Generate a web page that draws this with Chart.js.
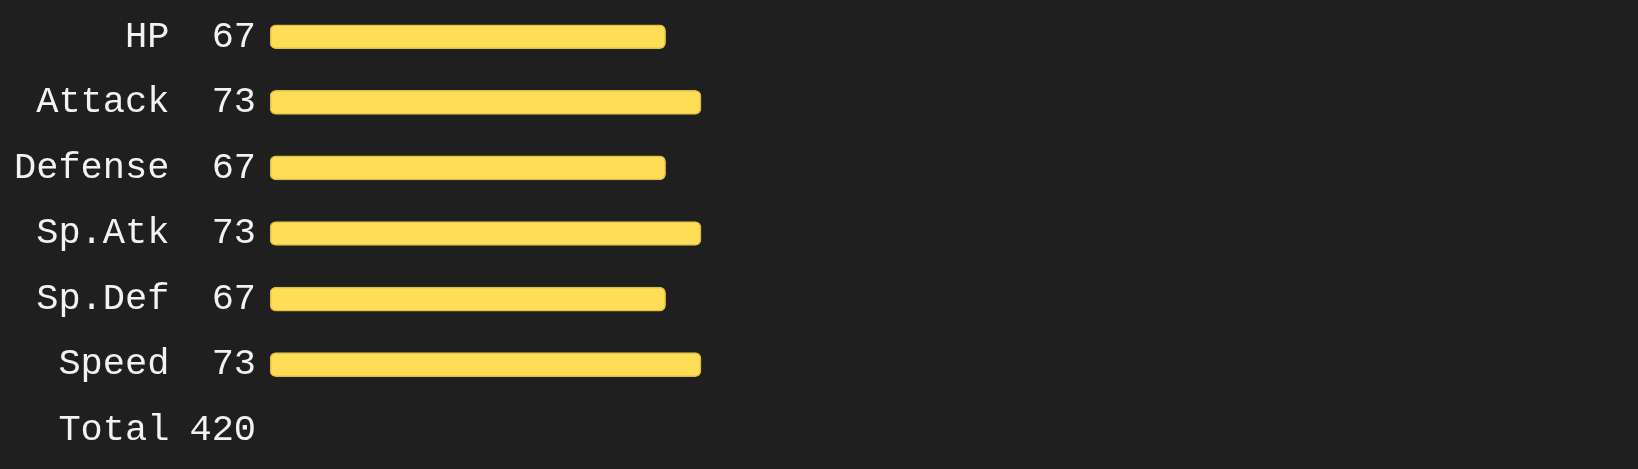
<!DOCTYPE html>
<html>
<head>
<meta charset="utf-8">
<script src="https://cdn.jsdelivr.net/npm/chart.js@4"></script>
<style>
    html, body { margin: 0; padding: 0; background: #1f1f1f; }
    #wrap { width: 1638px; height: 469px; position: relative; }
</style>
</head>
<body>
<div id="wrap"><canvas id="stats-chart"></canvas></div>
<script>
const statNames = ['HP', 'Attack', 'Defense', 'Sp.Atk', 'Sp.Def', 'Speed', 'Total'];
const statValues = [67, 73, 67, 73, 67, 73];
const totalValue = 420;

const valueLabels = [...statValues.map(String), String(totalValue)];
const barData = [...statValues, null];

// small lineHeight keeps the axes from reserving extra room above/below the rows
const FONT = { family: "'Courier New', 'Liberation Mono', monospace", size: 37, lineHeight: 0.2 };
const TEXT_COLOR = '#f2f2f2';

function renderChart() {
    const ctx = document.getElementById('stats-chart').getContext('2d');

    return new Chart(ctx, {
        type: 'bar',
        data: {
            labels: statNames,
            datasets: [
                {
                    data: barData,
                    yAxisID: 'y',
                    backgroundColor: '#ffdd57',
                    borderColor: '#dfbf45',
                    borderWidth: 1.5,
                    borderRadius: 6,
                    borderSkipped: false,
                    barThickness: 24
                }
            ]
        },
        options: {
            indexAxis: 'y',
            responsive: true,
            maintainAspectRatio: false,
            animation: false,
            layout: {
                padding: { top: 4, bottom: 6, left: 14, right: 10 }
            },
            plugins: {
                legend: { display: false },
                tooltip: { enabled: false }
            },
            scales: {
                x: {
                    display: false,
                    min: 0,
                    max: 230
                },
                y: {
                    type: 'category',
                    position: 'left',
                    weight: 1,
                    labels: statNames,
                    offset: true,
                    grid: { display: false, drawTicks: true, tickLength: 20 },
                    border: { display: false },
                    ticks: {
                        color: TEXT_COLOR,
                        font: FONT,
                        padding: 0,
                        autoSkip: false
                    }
                },
                y2: {
                    type: 'category',
                    position: 'left',
                    weight: 0,
                    labels: valueLabels,
                    offset: true,
                    grid: { display: false, drawTicks: true, tickLength: 14 },
                    border: { display: false },
                    ticks: {
                        color: TEXT_COLOR,
                        font: FONT,
                        padding: 0,
                        autoSkip: false
                    }
                }
            }
        }
    });
}

renderChart();
</script>
</body>
</html>
